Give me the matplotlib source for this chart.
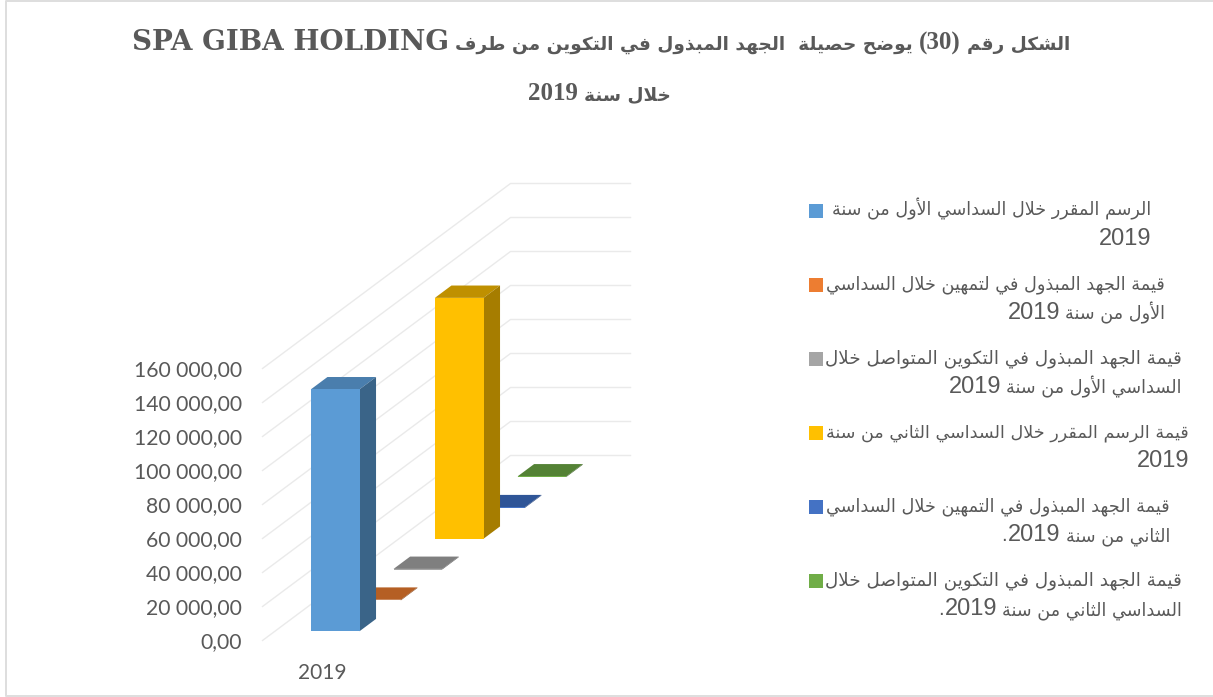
import re
import matplotlib
matplotlib.use("Agg")
import matplotlib.pyplot as plt
from matplotlib.patches import Polygon, Rectangle

# DONNEES
categories = ["2019"]
series_values = [142300, 400, 400, 141700, 400, 400]
front_colors = ["#5B9BD5", "#ED7D31", "#A5A5A5", "#FFC000", "#4472C4", "#70AD47"]
top_colors = ["#4A7EAD", "#B55F24", "#7F7F7F", "#BF9000", "#2F5597", "#548235"]
side_colors = ["#3A6488", "#8C4A1C", "#636363", "#A67D00", "#29487F", "#41652A"]
y_ticks = [0, 20000, 40000, 60000, 80000, 100000, 120000, 140000, 160000]
y_labels = ["0,00", "20 000,00", "40 000,00", "60 000,00", "80 000,00",
            "100 000,00", "120 000,00", "140 000,00", "160 000,00"]
title_lines = ["الشكل رقم (30) يوضح حصيلة  الجهد المبذول في التكوين من طرف SPA GIBA HOLDING",
               "خلال سنة 2019"]
legend_lines = [
    ["الرسم المقرر خلال السداسي الأول من سنة", "2019"],
    ["قيمة الجهد المبذول في لتمهين خلال السداسي", "الأول من سنة 2019"],
    ["قيمة الجهد المبذول في التكوين المتواصل خلال", "السداسي الأول من سنة 2019"],
    ["قيمة الرسم المقرر خلال السداسي الثاني من سنة", "2019"],
    ["قيمة الجهد المبذول في التمهين خلال السداسي", "الثاني من سنة 2019."],
    ["قيمة الجهد المبذول في التكوين المتواصل خلال", "السداسي الثاني من سنة 2019."],
]

# MISE EN PAGE (pixels)
W, H = 1213, 697
legend_right = [1151, 1165, 1182, 1189, 1170, 1182]
legend_first_size = [12.65, 12.7, 13.2, 12.6, 12.7, 13.2]
TEXT_COLOR = "#595959"
GRID_COLOR = "#EAEAEA"

# Pas de shaping arabe dans matplotlib: formes de presentation a la main
DUAL = dict(zip("بتثجحخسشصضطظعغفقكلمنهي",
                [0xFE8F, 0xFE95, 0xFE99, 0xFE9D, 0xFEA1, 0xFEA5, 0xFEB1, 0xFEB5, 0xFEB9, 0xFEBD, 0xFEC1,
                 0xFEC5, 0xFEC9, 0xFECD, 0xFED1, 0xFED5, 0xFED9, 0xFEDD, 0xFEE1, 0xFEE5, 0xFEE9, 0xFEF1]))
RIGHT = dict(zip("اأةدذرزوى", [0xFE8D, 0xFE83, 0xFE93, 0xFEA9, 0xFEAB, 0xFEAD, 0xFEAF, 0xFEED, 0xFEEF]))


def shape(word):
    word = word.replace("لا", "\uFEFB").replace("لأ", "\uFEF7")
    out = []
    for i, c in enumerate(word):
        prev = word[i - 1] if i > 0 else ""
        nxt = word[i + 1] if i + 1 < len(word) else ""
        joins_prev = prev in DUAL
        if c in ("\uFEFB", "\uFEF7"):
            out.append(chr(ord(c) + 1) if joins_prev else c)
        elif c in RIGHT:
            out.append(chr(RIGHT[c] + (1 if joins_prev else 0)))
        elif c in DUAL:
            joins_next = nxt in DUAL or nxt in RIGHT or nxt in ("\uFEFB", "\uFEF7")
            if joins_prev and joins_next:
                out.append(chr(DUAL[c] + 3))
            elif joins_next:
                out.append(chr(DUAL[c] + 2))
            elif joins_prev:
                out.append(chr(DUAL[c] + 1))
            else:
                out.append(chr(DUAL[c]))
        else:
            out.append(c)
    return "".join(out)


def visual_runs(line):
    # decoupe droite -> gauche en morceaux latins et arabes
    runs = []
    for part in re.split(r"(\(?[A-Za-z0-9]+(?: [A-Za-z0-9]+)*\)?)", line):
        if re.match(r"\(?[A-Za-z0-9]", part):
            runs.append((part, False))
        elif part.strip():
            words = [shape(w) for w in part.strip().split(" ")]
            runs.append((" ".join(words)[::-1], True))
    return runs


def draw_line(ax, right, baseline, line, ar_size, lat_size, lat_family, weight="normal", gap=5,
              word_size=None, word_family=None):
    x = right
    renderer = fig.canvas.get_renderer()
    for txt, is_ar in visual_runs(line):
        size, family = (ar_size, "DejaVu Sans") if is_ar else (lat_size, lat_family)
        if word_size and txt[0].isalpha() and not is_ar:
            size, family = word_size, word_family
        if txt == ".":
            x += gap - 1
        t = ax.text(x, baseline, txt, ha="right", va="baseline", color=TEXT_COLOR, fontweight=weight,
                    fontsize=size, family=family)
        x -= t.get_window_extent(renderer).width + gap


fig = plt.figure(figsize=(W / 100, H / 100), dpi=100)
fig.patch.set_facecolor("white")

# Calque en pixels pour titre, legende et cadre
over = fig.add_axes([0, 0, 1, 1])
over.set_xlim(0, W)
over.set_ylim(H, 0)
over.axis("off")
over.plot([W, 6, 6, W], [1, 1, 696, 696], color="#DEDEDE", linewidth=1.4)

# Axe du graphique: x de 0 a 1 = largeur de la paroi, y = valeurs
ax = fig.add_axes([262.5 / W, 1 - 640.5 / H, 120 / W, 272 / H])
ax.set_xlim(0, 1)
ax.set_ylim(0, 160000)
ax.patch.set_alpha(0)
for s in ax.spines.values():
    s.set_visible(False)
ax.set_yticks(y_ticks)
ax.set_yticklabels(y_labels, fontsize=15.2, color=TEXT_COLOR, family="Lato")
ax.set_xticks([0.5])
ax.set_xticklabels(categories, fontsize=15, color=TEXT_COLOR, family="Lato")
ax.tick_params(axis="y", length=0, pad=15)
ax.tick_params(axis="x", length=0, pad=16)

# Projection oblique: une unite de profondeur = un decalage en x et en y
N_DEPTH = len(series_values)
DEPTH_X = 248 / 120 / N_DEPTH
DEPTH_Y = 185 / 272 * 160000 / N_DEPTH


def project(x, value, depth):
    return (x + depth * DEPTH_X, value + depth * DEPTH_Y)


# Grille: diagonale au sol/paroi puis horizontale sur la paroi du fond
for v in y_ticks:
    pts = [project(0, v, 0), project(0, v, N_DEPTH), project(1, v, N_DEPTH)]
    ax.plot(*zip(*pts), color=GRID_COLOR, linewidth=1, clip_on=False, zorder=1)

BAR_X = 0.30
BAR_W = 0.405
BAR_D = 0.4
BAR_START = 0.3

# Du fond vers l'avant
for i in reversed(range(N_DEPTH)):
    v = series_values[i]
    d0 = i + BAR_START
    d1 = d0 + BAR_D
    x0, x1 = BAR_X, BAR_X + BAR_W
    z = 10 + N_DEPTH - i
    faces = [
        ([(x0, v, d0), (x1, v, d0), (x1, v, d1), (x0, v, d1)], top_colors[i]),
        ([(x1, 0, d0), (x1, v, d0), (x1, v, d1), (x1, 0, d1)], side_colors[i]),
        ([(x0, 0, d0), (x1, 0, d0), (x1, v, d0), (x0, v, d0)], front_colors[i]),
    ]
    for corners, color in faces:
        ax.add_patch(Polygon([project(*c) for c in corners], closed=True, facecolor=color,
                             edgecolor="none", clip_on=False, zorder=z))

# Titre
draw_line(over, 1070, 50, title_lines[0], 13.3, 18, "Liberation Serif", weight="bold", gap=6,
          word_size=20, word_family="DejaVu Serif")
draw_line(over, 671, 100, title_lines[1], 13.3, 18, "Liberation Serif", weight="bold", gap=6)

# Legende
for i, lines in enumerate(legend_lines):
    top = 204 + 74 * i
    over.add_patch(Rectangle((809, top), 14, 14, facecolor=front_colors[i], edgecolor="none"))
    draw_line(over, legend_right[i], top + 11, lines[0], legend_first_size[i], 17, "Liberation Sans")
    draw_line(over, legend_right[i], top + 41, lines[1], 12.7, 17, "Liberation Sans")

fig.savefig("out.png", dpi=100)
